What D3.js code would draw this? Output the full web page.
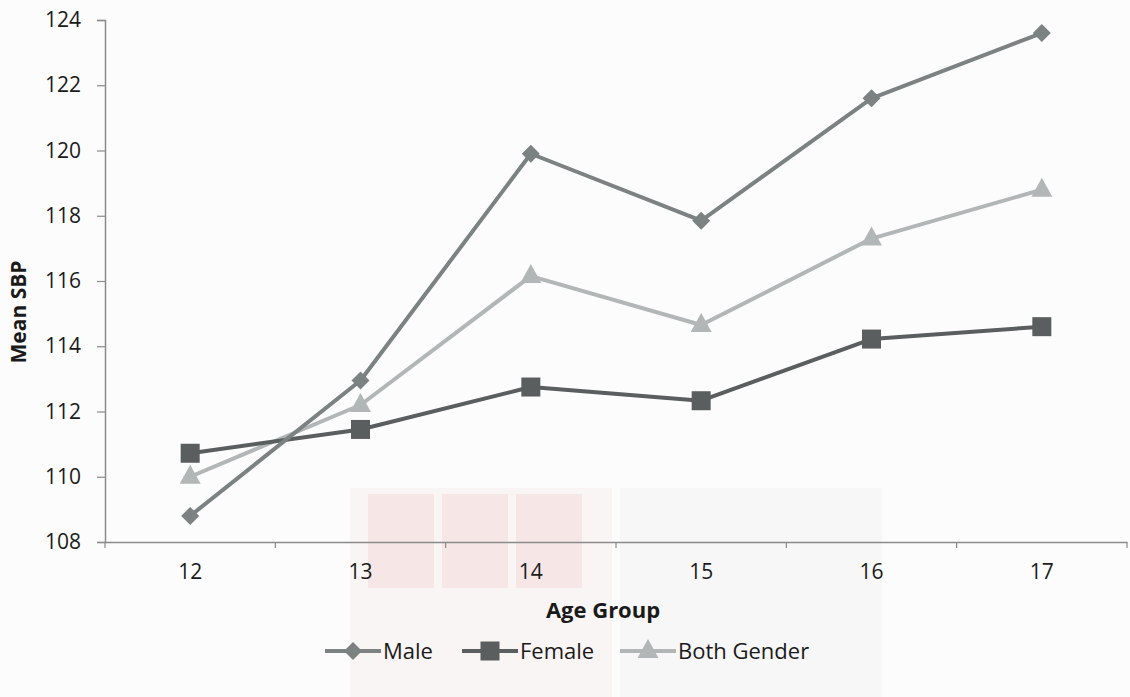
<!DOCTYPE html>
<html>
<head>
<meta charset="utf-8">
<script src="https://cdn.jsdelivr.net/npm/d3@7"></script>
<style>
  html, body { margin: 0; padding: 0; background: #fcfcfc; }
  svg { display: block; }
  text { font-family: "Open Sans", "Liberation Sans", sans-serif; fill: #1a1a1a; }
</style>
</head>
<body>
<svg id="chart" width="1130" height="697"></svg>
<script>
const categories = ["12", "13", "14", "15", "16", "17"];
const male   = [108.8, 112.95, 119.9, 117.85, 121.6, 123.6];
const female = [110.72, 111.45, 112.75, 112.33, 114.22, 114.6];
const both   = [110.0, 112.2, 116.15, 114.65, 117.3, 118.8];
const yTicks = [108, 110, 112, 114, 116, 118, 120, 122, 124];
const seriesNames = ["Male", "Female", "Both Gender"];
const xTitle = "Age Group";
const yTitle = "Mean SBP";

const series = [
  { name: seriesNames[0], values: male,   color: "#7c8282", marker: "diamond" },
  { name: seriesNames[1], values: female, color: "#5b5e5e", marker: "square" },
  { name: seriesNames[2], values: both,   color: "#b3b6b6", marker: "triangle" }
];

const svg = d3.select("#chart");
const W = 1130, H = 697;
const margin = { left: 105, right: 3, top: 20, bottom: 155 };
const plotW = W - margin.left - margin.right;
const plotH = H - margin.top - margin.bottom;
const FONT = '"Open Sans", "Liberation Sans", sans-serif';

// faint scanned watermark (shapes only)
const wm = svg.append("g").attr("class", "watermark");
wm.append("rect").attr("x", 350).attr("y", 488).attr("width", 262).attr("height", 209).attr("fill", "#faf5f5");
wm.append("rect").attr("x", 620).attr("y", 488).attr("width", 262).attr("height", 209).attr("fill", "#f7f7f7");
[0, 1, 2].forEach(i => {
  wm.append("rect").attr("x", 368 + i * 74).attr("y", 494).attr("width", 66).attr("height", 94).attr("fill", "#f7e6e6");
});

const x = d3.scaleBand().domain(categories).range([margin.left, margin.left + plotW]).padding(0);
const y = d3.scaleLinear().domain([108, 124]).range([margin.top + plotH, margin.top]);
const cx = d => x(d) + x.bandwidth() / 2;

// Y axis
const yAxis = svg.append("g")
  .attr("transform", `translate(${margin.left},0)`)
  .call(d3.axisLeft(y).tickValues(yTicks).tickSize(8).tickPadding(16));
yAxis.select(".domain").attr("stroke", "#8a8a8a").attr("stroke-width", 1.5);
yAxis.selectAll(".tick line").attr("stroke", "#8a8a8a").attr("stroke-width", 1.2);
yAxis.selectAll(".tick text").attr("font-size", 21).style("fill", "#1a1a1a").style("font-family", FONT);

// X axis
const xAxis = svg.append("g")
  .attr("transform", `translate(0,${margin.top + plotH})`)
  .call(d3.axisBottom(x).tickSize(0).tickPadding(22));
xAxis.select(".domain").attr("stroke", "#8a8a8a").attr("stroke-width", 1.5);
xAxis.selectAll(".tick text").attr("font-size", 21).style("fill", "#1a1a1a").style("font-family", FONT);
const bounds = categories.map(c => x(c)).concat([x(categories[categories.length - 1]) + x.bandwidth()]);
xAxis.selectAll(".bound").data(bounds).enter().append("line")
  .attr("class", "bound").attr("x1", d => d).attr("x2", d => d)
  .attr("y1", 0).attr("y2", 6).attr("stroke", "#8a8a8a").attr("stroke-width", 1.2);

// Axis titles
svg.append("text").attr("x", 603).attr("y", 618)
  .attr("text-anchor", "middle").attr("font-size", 22).attr("font-weight", "bold").text(xTitle);
svg.append("text").attr("transform", `translate(26,312) rotate(-90)`)
  .attr("text-anchor", "middle").attr("font-size", 21).attr("font-weight", "bold").text(yTitle);

// marker helper
function drawMarker(g, type, px, py, color) {
  if (type === "diamond") {
    g.append("path").attr("d", `M${px},${py - 9}L${px + 9},${py}L${px},${py + 9}L${px - 9},${py}Z`).attr("fill", color);
  } else if (type === "square") {
    g.append("rect").attr("x", px - 9.5).attr("y", py - 9.5).attr("width", 19).attr("height", 19).attr("fill", color);
  } else {
    g.append("path").attr("d", `M${px},${py - 12}L${px + 10.5},${py + 7}L${px - 10.5},${py + 7}Z`).attr("fill", color);
  }
}

const line = d3.line().x((d, i) => cx(categories[i])).y(d => y(d));

const order = [2, 1, 0];
order.forEach(k => {
  const s = series[k];
  const g = svg.append("g");
  g.append("path").datum(s.values).attr("d", line).attr("fill", "none")
    .attr("stroke", s.color).attr("stroke-width", 4).attr("stroke-linejoin", "round");
  s.values.forEach((v, i) => drawMarker(g, s.marker, cx(categories[i]), y(v), s.color));
});

// Legend
const legendItems = [
  { s: series[0], x0: 325 },
  { s: series[1], x0: 462 },
  { s: series[2], x0: 620 }
];
const ly = 651;
legendItems.forEach(({ s, x0 }) => {
  const g = svg.append("g");
  g.append("line").attr("x1", x0).attr("x2", x0 + 56).attr("y1", ly).attr("y2", ly)
    .attr("stroke", s.color).attr("stroke-width", 4);
  drawMarker(g, s.marker, x0 + 28, ly, s.color);
  g.append("text").attr("x", x0 + 58).attr("y", ly + 8).attr("font-size", 22).text(s.name);
});
</script>
</body>
</html>
